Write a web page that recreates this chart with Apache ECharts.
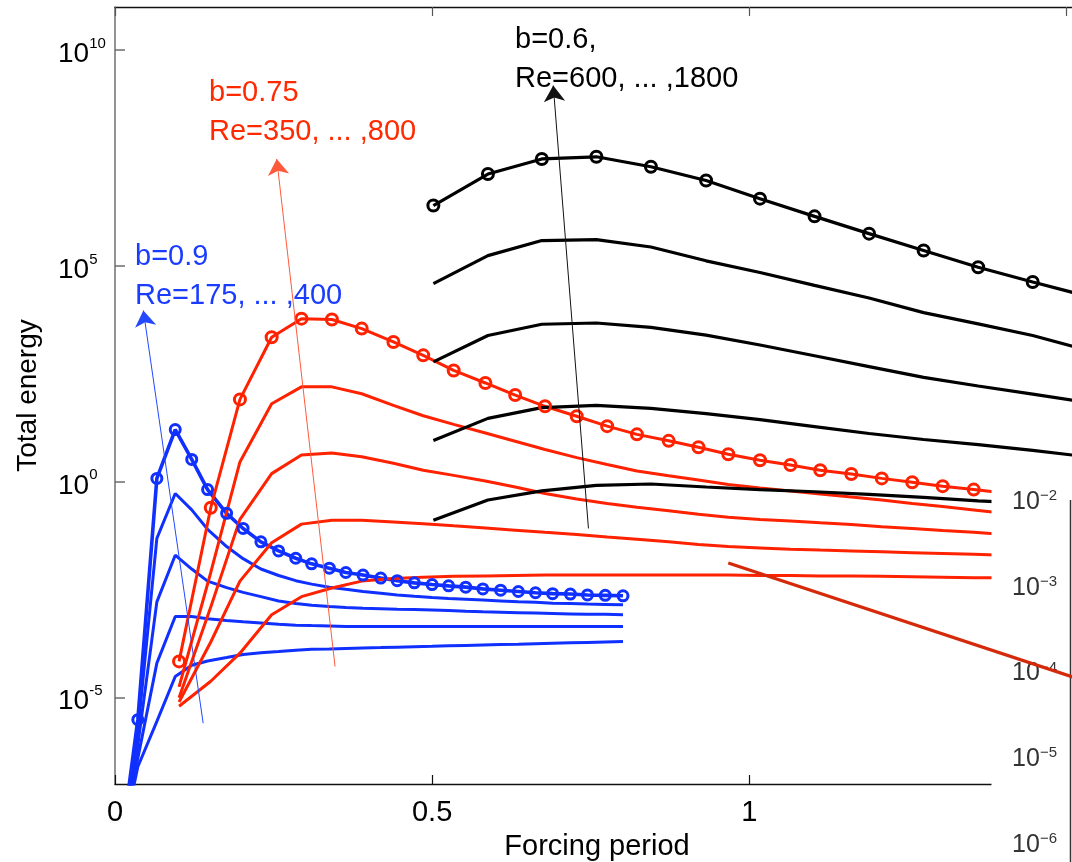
<!DOCTYPE html>
<html><head><meta charset="utf-8">
<script src="https://cdn.jsdelivr.net/npm/echarts@6/dist/echarts.min.js"></script>
<style>html,body{margin:0;padding:0;background:#fff}#c{width:1072px;height:862px}</style>
</head><body><div id="c"></div>
<script>
// log10(Total energy)
const blueX = [0.009,0.036,0.066,0.095,0.121,0.146,0.176,0.202,0.230,0.258,0.285,0.310,0.338,0.364,0.391,0.419,0.445,0.472,0.500,0.526,0.553,0.580,0.608,0.636,0.663,0.690,0.718,0.745,0.773,0.801];
const blue1 = [-8.5,-5.51,0.08,1.21,0.52,-0.18,-0.73,-1.08,-1.39,-1.60,-1.77,-1.90,-2.00,-2.10,-2.16,-2.23,-2.29,-2.34,-2.38,-2.41,-2.44,-2.48,-2.51,-2.54,-2.57,-2.59,-2.60,-2.62,-2.63,-2.64];
const blue2 = [-8.5,-5.8,-1.31,-0.27,-0.65,-1.10,-1.50,-1.78,-2.02,-2.17,-2.29,-2.37,-2.44,-2.49,-2.54,-2.58,-2.62,-2.65,-2.68,-2.70,-2.72,-2.74,-2.76,-2.78,-2.79,-2.81,-2.82,-2.83,-2.84,-2.85];
const blue3 = [-8.5,-6.1,-2.78,-1.70,-2.02,-2.30,-2.45,-2.56,-2.66,-2.76,-2.82,-2.86,-2.89,-2.91,-2.93,-2.94,-2.95,-2.96,-2.97,-2.98,-3.00,-3.01,-3.02,-3.03,-3.04,-3.05,-3.06,-3.07,-3.07,-3.08];
const blue4 = [-8.5,-6.4,-4.20,-3.12,-3.12,-3.17,-3.21,-3.24,-3.27,-3.30,-3.32,-3.33,-3.34,-3.35,-3.35,-3.35,-3.35,-3.35,-3.35,-3.35,-3.35,-3.35,-3.35,-3.35,-3.35,-3.35,-3.35,-3.35,-3.35,-3.35];
const blue5 = [-8.5,-6.6,-5.55,-4.51,-4.25,-4.15,-4.07,-4.00,-3.96,-3.93,-3.90,-3.88,-3.87,-3.86,-3.85,-3.84,-3.83,-3.82,-3.81,-3.80,-3.79,-3.78,-3.77,-3.76,-3.75,-3.74,-3.73,-3.72,-3.71,-3.70];

const redX = [0.101,0.151,0.197,0.247,0.294,0.342,0.389,0.439,0.486,0.534,0.584,0.631,0.678,0.728,0.776,0.823,0.873,0.920,0.967,1.017,1.065,1.112,1.161,1.209,1.257,1.305,1.354,1.402,1.450];
const red1 = [-4.16,-0.60,1.91,3.35,3.78,3.76,3.55,3.24,2.93,2.58,2.29,2.01,1.75,1.52,1.29,1.10,0.95,0.80,0.64,0.50,0.39,0.27,0.18,0.08,-0.01,-0.10,-0.18,-0.26,-0.33];
const red2 = [-4.75,-2.10,0.46,1.81,2.20,2.20,2.04,1.77,1.53,1.33,1.13,0.94,0.75,0.56,0.40,0.25,0.14,0.04,-0.06,-0.14,-0.21,-0.28,-0.35,-0.42,-0.50,-0.57,-0.65,-0.73,-0.81];
const red3 = [-5.00,-2.90,-0.87,0.19,0.62,0.67,0.58,0.43,0.27,0.15,0.02,-0.12,-0.27,-0.40,-0.50,-0.59,-0.67,-0.75,-0.82,-0.87,-0.91,-0.95,-0.99,-1.04,-1.08,-1.13,-1.17,-1.22,-1.26];
const red4 = [-5.10,-3.71,-2.30,-1.41,-0.98,-0.89,-0.89,-0.93,-0.97,-1.02,-1.07,-1.12,-1.17,-1.22,-1.28,-1.33,-1.39,-1.45,-1.50,-1.53,-1.56,-1.58,-1.60,-1.62,-1.64,-1.66,-1.68,-1.70,-1.72];
const red5 = [-5.20,-4.62,-3.97,-3.08,-2.66,-2.46,-2.30,-2.24,-2.21,-2.19,-2.18,-2.17,-2.16,-2.16,-2.16,-2.16,-2.16,-2.16,-2.16,-2.17,-2.17,-2.18,-2.18,-2.19,-2.20,-2.21,-2.22,-2.22,-2.23];

const blackX = [0.502,0.588,0.673,0.759,0.845,0.932,1.017,1.103,1.189,1.275,1.361,1.447,1.533];
const black1 = [6.40,7.13,7.48,7.53,7.30,6.98,6.56,6.15,5.75,5.36,4.97,4.63,4.30];
const black2 = [4.59,5.24,5.59,5.61,5.44,5.12,4.85,4.55,4.26,3.92,3.66,3.39,3.05];
const black3 = [2.78,3.39,3.65,3.68,3.58,3.40,3.17,2.92,2.67,2.42,2.22,2.03,1.84];
const black4 = [0.96,1.47,1.72,1.77,1.70,1.58,1.44,1.28,1.12,0.98,0.86,0.73,0.58];
const black5 = [-0.89,-0.42,-0.21,-0.08,-0.05,-0.12,-0.18,-0.23,-0.29,-0.36,-0.44,-0.50,-0.57];

const darkRedX = [0.967,1.52];
const darkRedY = [-1.88,-4.57];

// arrows: [tail, head] in (forcing period, log10 energy)
const arrowBlue = [[0.139,-5.59],[0.0447,3.97]];
const arrowRed = [[0.347,-4.28],[0.255,7.48]];
const arrowBlack = [[0.7465,-1.08],[0.691,9.18]];

const yTickExps = [-5,0,5,10];
const insetTickExps = [-2,-3,-4,-5,-6];
const xTicks = [0,0.5,1,1.5];

const annotations = [
  {text:'b=0.9', x:135, y:257, color:'#1a3cff'},
  {text:'Re=175, ... ,400', x:135, y:296, color:'#1a3cff'},
  {text:'b=0.75', x:209, y:93, color:'#ff2a00'},
  {text:'Re=350, ... ,800', x:209, y:132, color:'#ff2a00'},
  {text:'b=0.6,', x:515, y:40, color:'#000'},
  {text:'Re=600, ... ,1800', x:515, y:79, color:'#000'}
];

const FONT = 'Liberation Sans';
const BLUE = '#1030ff', RED = '#ff2200', BLACK = '#000000';
const Y_MIN = -7, Y_MAX = 11, X_MIN = 0, X_MAX = 1.52;

function pts(xs, ys){
  return xs.map((x,i)=> (ys[i] < Y_MIN || x > X_MAX) ? {value:[x,ys[i]], symbol:'none'} : [x, ys[i]]);
}
function lineSeries(xs, ys, color, width, markers, size){
  return {
    type:'line', data: pts(xs, ys), xAxisIndex:0, yAxisIndex:0,
    showSymbol: !!markers, symbol: markers ? 'circle' : 'none', symbolSize: size || 10,
    itemStyle: {color:'rgba(0,0,0,0)', borderColor: color, borderWidth: 3},
    lineStyle: {color: color, width: width}, z: 2, clip: true, silent: true
  };
}
function arrow(seg, color){
  return {
    type:'line', data: [], xAxisIndex:0, yAxisIndex:0, silent:true, z:4,
    markLine: {
      silent:true, animation:false, symbol:['none','arrow'], symbolSize:16,
      label:{show:false}, lineStyle:{color:color, width:1, type:'solid'},
      itemStyle:{color:color},
      data: [[{coord: seg[0]}, {coord: seg[1]}]]
    }
  };
}

const series = [
  lineSeries(blueX, blue2, BLUE, 3),
  lineSeries(blueX, blue3, BLUE, 3),
  lineSeries(blueX, blue4, BLUE, 3),
  lineSeries(blueX, blue5, BLUE, 3),
  lineSeries(blueX, blue1, BLUE, 3.6, true, 10),
  lineSeries(redX, red2, RED, 3),
  lineSeries(redX, red3, RED, 3),
  lineSeries(redX, red4, RED, 3),
  lineSeries(redX, red5, RED, 3),
  lineSeries(redX, red1, RED, 3, true, 11),
  lineSeries(blackX, black2, BLACK, 3.2),
  lineSeries(blackX, black3, BLACK, 3.2),
  lineSeries(blackX, black4, BLACK, 3.2),
  lineSeries(blackX, black5, BLACK, 3.2),
  lineSeries(blackX, black1, BLACK, 3.2, true, 11),
  arrow(arrowBlue, '#2448ff'),
  arrow(arrowRed, '#ff5a3c'),
  arrow(arrowBlack, '#111'),
  Object.assign(lineSeries(darkRedX, darkRedY, '#d42a0a', 3.2), {z: 80})
];

const graphics = annotations.map(a => ({
  type:'text', z: 10,
  style:{text:a.text, x:a.x, y:a.y, fill:a.color, fontSize:29, fontFamily:FONT,
         verticalAlign:'middle', textVerticalAlign:'middle'}
}));
graphics.push({type:'rect', z:50, shape:{x:991.5, y:476, width:90, height:400}, style:{fill:'#fff'}});
graphics.push({type:'line', z:55, shape:{x1:1070.5, y1:500, x2:1070.5, y2:862}, style:{stroke:'#333', lineWidth:1.5}});

const option = {
  animation:false,
  backgroundColor:'#fff',
  grid:[
    {left:115, top:7, width:964, height:777, show:false, outerBoundsMode:'none', containLabel:false},
    {left:1000, top:415.25, width:70, height:514.5, show:false, outerBoundsMode:'none', containLabel:false}
  ],
  xAxis:[
    {type:'value', gridIndex:0, position:'bottom', min:X_MIN, max:X_MAX, interval:0.5,
     axisLine:{show:true, onZero:false, lineStyle:{color:'#111', width:1.4}},
     axisTick:{show:true, inside:true, length:9, lineStyle:{color:'#111', width:1.2}},
     axisLabel:{show:true, customValues:xTicks, fontSize:29, fontFamily:FONT, color:'#000', margin:14},
     splitLine:{show:false},
     name:'Forcing period', nameLocation:'middle', nameGap:48,
     nameTextStyle:{fontSize:29, fontFamily:FONT, color:'#000'}},
    {type:'value', gridIndex:0, position:'top', min:X_MIN, max:X_MAX, interval:0.5,
     axisLine:{show:true, onZero:false, lineStyle:{color:'#111', width:1.4}},
     axisTick:{show:true, inside:true, length:9, lineStyle:{color:'#555', width:1.2}},
     axisLabel:{show:false}, splitLine:{show:false}},
    {type:'value', gridIndex:1, show:false, min:0, max:1}
  ],
  yAxis:[
    {type:'value', gridIndex:0, position:'left', min:Y_MIN, max:Y_MAX,
     axisLine:{show:true, onZero:false, lineStyle:{color:'#6e6e6e', width:1.5}},
     axisTick:{show:true, inside:true, length:10, customValues:yTickExps, lineStyle:{color:'#6e6e6e', width:1.5}},
     axisLabel:{show:true, customValues:yTickExps, align:'left', margin:57,
       formatter: v => '{b|10}{s|' + v + '}',
       rich:{b:{fontSize:28, fontFamily:FONT, color:'#000', lineHeight:28, padding:[8,0,0,0]},
             s:{fontSize:15, fontFamily:FONT, color:'#000', lineHeight:15, verticalAlign:'top'}}},
     splitLine:{show:false},
     name:'Total energy', nameLocation:'middle', nameGap:73,
     nameTextStyle:{fontSize:28, fontFamily:FONT, color:'#000'}},
    {type:'value', gridIndex:1, position:'right', min:-7, max:-1, z:60,
     axisLine:{show:false, onZero:false}, axisTick:{show:false}, splitLine:{show:false},
     axisLabel:{show:true, inside:true, margin:13, customValues:insetTickExps,
       formatter: v => '{b|10}{s|\u2212' + Math.abs(v) + '}',
       rich:{b:{fontSize:25, fontFamily:FONT, color:'#333', lineHeight:25, padding:[2,0,0,0]},
             s:{fontSize:15, fontFamily:FONT, color:'#333', lineHeight:15, verticalAlign:'top'}}}}
  ],
  graphic: graphics,
  series: series
};

const chart = echarts.init(document.getElementById('c'), null, {renderer:'canvas'});
chart.setOption(option);
</script>
</body></html>
